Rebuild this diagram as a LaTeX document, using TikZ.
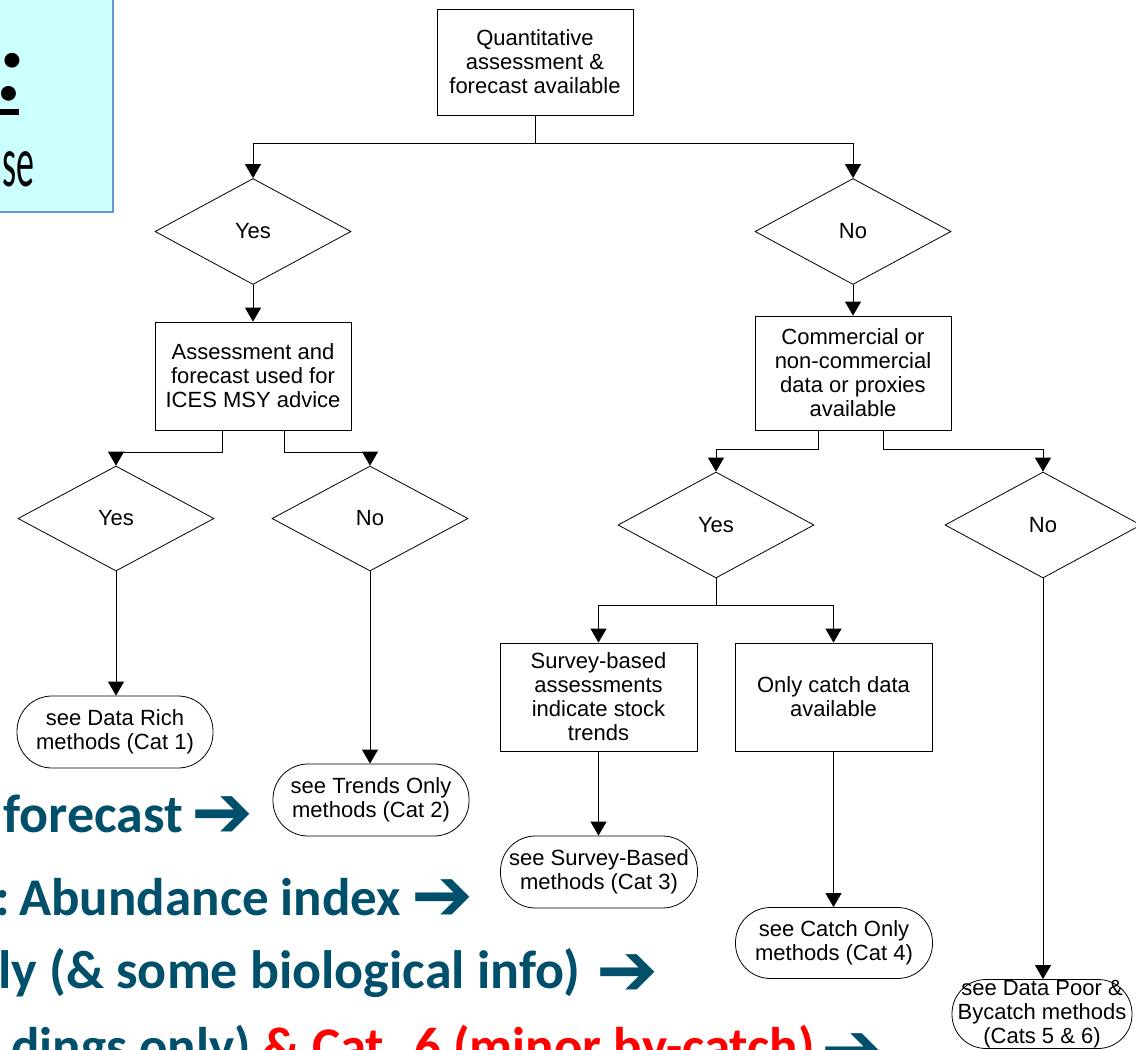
\documentclass[tikz,border=0pt]{standalone}
\usepackage{fontspec}
\usepackage{graphicx}
\setmainfont{Liberation Sans}
\newfontfamily\calfont{Carlito}
\newfontfamily\dvsfont{DejaVu Sans}
\usetikzlibrary{arrows.meta,shapes.geometric}
\definecolor{teal1}{RGB}{0,79,107}
\definecolor{cyanbox}{RGB}{204,255,255}
\definecolor{bluebd}{RGB}{100,150,210}
\begin{document}
\begin{tikzpicture}[x=1pt,y=-1pt,
  every node/.style={font=\fontsize{22}{24}\selectfont, inner sep=0pt},
  proc/.style={draw, line width=0.8pt, rectangle, minimum width=196pt, align=center},
  dec/.style={draw, line width=0.8pt, diamond, aspect=1.83, minimum width=196pt, minimum height=106pt},
  term/.style={draw, line width=0.8pt, rectangle, rounded corners=35pt, minimum width=196pt, minimum height=72pt, align=center},
  arr/.style={line width=0.8pt, -{Triangle[width=16pt,length=14pt]}},
  big/.style={text=teal1, font=\calfont\bfseries\fontsize{54}{60}\selectfont, anchor=base west},
  darr/.style={text=teal1, font=\dvsfont\bfseries\fontsize{74}{80}\selectfont, anchor=base west}
]
\useasboundingbox (0,0) rectangle (1136,1050);
\clip (0,0) rectangle (1136,1050);
\fill[white] (0,0) rectangle (1136,1050);

% top-left box
\draw[fill=cyanbox, draw=bluebd, line width=1.5pt] (-5,-5) rectangle (113,212);
\node[anchor=base east, font=\calfont\bfseries\itshape\fontsize{100}{100}\selectfont] (colon) at (24,100) {:};
\draw[line width=6pt] (-5,111.5) -- (19,111.5);
\node[anchor=base east] (se) at (35,186) {\scalebox{0.5}[1]{\calfont\fontsize{72}{72}\selectfont se}};

% flowchart nodes
\node[proc, minimum height=106pt] (q) at (535,62) {Quantitative\\assessment \&\\forecast available};
\node[dec] (yes1) at (253,231.5) {Yes};
\node[dec] (no1) at (853,231.5) {No};
\node[proc, minimum height=108pt] (a1) at (253,376) {Assessment and\\forecast used for\\ICES MSY advice};
\node[proc, minimum height=114pt] (c1) at (853,373) {Commercial or\\non-commercial\\data or proxies\\available};
\node[dec, minimum height=105pt] (yes2) at (116,518.5) {Yes};
\node[dec, minimum height=105pt] (no2) at (370,518.5) {No};
\node[dec] (yes3) at (716,525) {Yes};
\node[dec] (no3) at (1043,525) {No};
\node[proc, minimum width=197pt, minimum height=108pt] (s1) at (598.5,697) {Survey-based\\assessments\\indicate stock\\trends};
\node[proc, minimum width=197pt, minimum height=108pt] (o1) at (833.5,697) {Only catch data\\available};
\node[term] (t1) at (115,732) {see Data Rich\\methods (Cat 1)};
\node[term] (t2) at (371,800) {see Trends Only\\methods (Cat 2)};
\node[term, minimum width=197pt] (t3) at (599,872) {see Survey-Based\\methods (Cat 3)};
\node[term, minimum width=197pt, minimum height=71pt] (t4) at (834,943) {see Catch Only\\methods (Cat 4)};
\node[term, minimum width=180pt, minimum height=69pt, rounded corners=34pt] (t5) at (1042,1014) {see Data Poor \&\\Bycatch methods\\(Cats 5 \& 6)};

% connectors
\draw[arr] (q.south) -- ++(0,28) -| (yes1.north);
\draw[arr] (q.south) -- ++(0,28) -| (no1.north);
\draw[arr] (yes1.south) -- (a1.north);
\draw[arr] (no1.south) -- (c1.north);
\draw[arr] ([xshift=-31pt]a1.south) -- ++(0,22) -| (yes2.north);
\draw[arr] ([xshift=31pt]a1.south) -- ++(0,22) -| (no2.north);
\draw[arr] ([xshift=-35pt]c1.south) -- ++(0,19) -| (yes3.north);
\draw[arr] ([xshift=30pt]c1.south) -- ++(0,19) -| (no3.north);
\draw[arr] (yes3.south) -- ++(0,27) -| (s1.north);
\draw[arr] (yes3.south) -- ++(0,27) -| (o1.north);
\draw[arr] (yes2.south) -- (yes2.south |- t1.north);
\draw[arr] (no2.south) -- (no2.south |- t2.north);
\draw[arr] (s1.south) -- (s1.south |- t3.north);
\draw[arr] (o1.south) -- (o1.south |- t4.north);
\draw[arr] (no3.south) -- (no3.south |- t5.north);

% teal text
\node[big] (l1) at (3,832) {forecast};
\node[darr] (r1) at (191,837) {➔};
\node[big, font=\calfont\bfseries\fontsize{53}{60}\selectfont] (l2) at (-5,915) {:\hspace{-0.12em} Abundance index};
\node[darr] (r2) at (411,920) {➔};
\node[big] (l3) at (-2,988) {ly (\& some biological info)};
\node[darr] (r3) at (596,995) {➔};
\node[big, font=\calfont\bfseries\fontsize{53}{60}\selectfont] (l4) at (11,1064) {dings only) \textcolor{red}{\& Cat. 6 (minor by-catch)}};
\node[darr] (r4) at (821,1074) {➔};
\end{tikzpicture}
\end{document}
